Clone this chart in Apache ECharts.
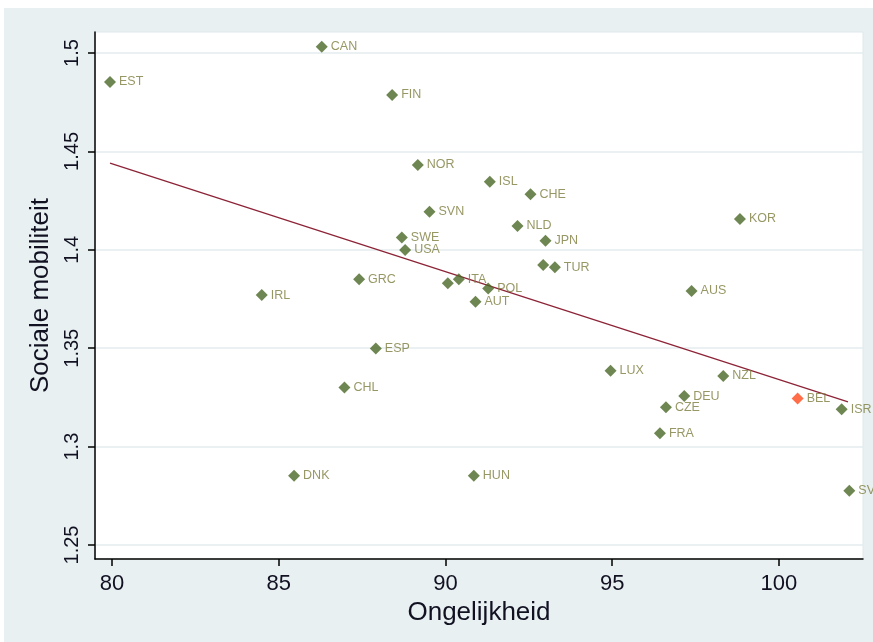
<!DOCTYPE html>
<html>
<head>
<meta charset="utf-8">
<script src="https://cdn.jsdelivr.net/npm/echarts@6/dist/echarts.min.js"></script>
<style>
  html, body { margin: 0; padding: 0; background: #ffffff; }
  #chart { position: absolute; left: 4px; top: 8px; width: 869px; height: 634px; background: #e8f0f2; }
</style>
</head>
<body>
<div id="chart"></div>
<script>
// Country codes, inequality (x) and social mobility (y)
const countries = ['EST','CAN','FIN','NOR','ISL','CHE','SVN','NLD','SWE','JPN','USA','','TUR','GRC','','ITA','POL','AUT','IRL','KOR','AUS','LUX','NZL','DEU','CZE','ISR','FRA','SVK','ESP','CHL','DNK','HUN','BEL'];
const inequality = [79.94,86.29,88.40,89.17,91.33,92.55,89.52,92.16,88.69,93.00,88.79,92.93,93.28,87.41,90.07,90.40,91.28,90.90,84.49,98.83,97.38,94.95,98.33,97.16,96.61,101.88,96.43,102.11,87.91,86.97,85.46,90.85,100.56];
const mobility = [1.4853,1.5032,1.4787,1.4431,1.4346,1.4282,1.4194,1.4121,1.4063,1.4046,1.3999,1.3923,1.3911,1.3850,1.3830,1.3850,1.3804,1.3736,1.3770,1.4157,1.3791,1.3386,1.3359,1.3257,1.3200,1.3190,1.3068,1.2776,1.3499,1.3301,1.2852,1.2852,1.3245];
const highlighted = 'BEL';

// Linear fit endpoints
const fitX = [79.94, 102.07];
const fitY = [1.4441, 1.3228];

// Axis ticks
const xTicks = [80, 85, 90, 95, 100];
const yTicks = [1.25, 1.3, 1.35, 1.4, 1.45, 1.5];

const others = [], focus = [];
countries.forEach((c, i) => {
  const pt = { name: c, value: [inequality[i], mobility[i]] };
  (c === highlighted ? focus : others).push(pt);
});

const FONT = 'Liberation Sans, Arial, sans-serif';

const pointLabel = {
  show: true,
  position: 'right',
  distance: 3,
  formatter: p => p.name,
  fontFamily: FONT,
  fontSize: 12.5,
  color: '#7d7d3f'
};

const chart = echarts.init(document.getElementById('chart'), null, { renderer: 'canvas' });
chart.setOption({
  animation: false,
  grid: {
    left: 91, top: 24, width: 768, height: 527,
    show: true, backgroundColor: '#ffffff', borderColor: '#dfe8eb', borderWidth: 1
  },
  xAxis: {
    type: 'value', min: 79.49, max: 102.52,
    name: 'Ongelijkheid', nameLocation: 'middle', nameGap: 38,
    nameTextStyle: { fontFamily: FONT, fontSize: 26, color: '#111122' },
    axisLine: { show: true, onZero: false, lineStyle: { color: '#000', width: 1.5 } },
    axisTick: { show: true, customValues: xTicks, length: 7, lineStyle: { color: '#000', width: 1.5 } },
    axisLabel: { customValues: xTicks, margin: 14, fontFamily: FONT, fontSize: 22, color: '#111122' },
    splitLine: { show: false }
  },
  yAxis: {
    type: 'value', min: 1.2429, max: 1.5107,
    name: 'Sociale mobiliteit', nameLocation: 'middle', nameGap: 38, nameRotate: 90,
    nameTextStyle: { fontFamily: FONT, fontSize: 26, color: '#111122' },
    axisLine: { show: true, onZero: false, lineStyle: { color: '#000', width: 1.5 } },
    axisTick: { show: true, customValues: yTicks, length: 7, lineStyle: { color: '#000', width: 1.5 } },
    axisLabel: { customValues: yTicks, rotate: 90, margin: 13, fontFamily: FONT, fontSize: 20, color: '#111122',
      formatter: v => String(+v.toFixed(2)) },
    splitLine: { show: true, lineStyle: { color: '#e4ecef', width: 1.5 } }
  },
  series: [
    {
      type: 'line', data: fitX.map((x, i) => [x, fitY[i]]),
      showSymbol: false, lineStyle: { color: '#8c2336', width: 1.3 }, z: 2, silent: true
    },
    {
      type: 'scatter', data: others, symbol: 'diamond', symbolSize: 12,
      itemStyle: { color: '#4a6826' }, label: pointLabel, z: 3
    },
    {
      type: 'scatter', data: focus, symbol: 'diamond', symbolSize: 12,
      itemStyle: { color: '#ff4a1c' }, label: pointLabel, z: 4
    }
  ]
});
</script>
</body>
</html>
